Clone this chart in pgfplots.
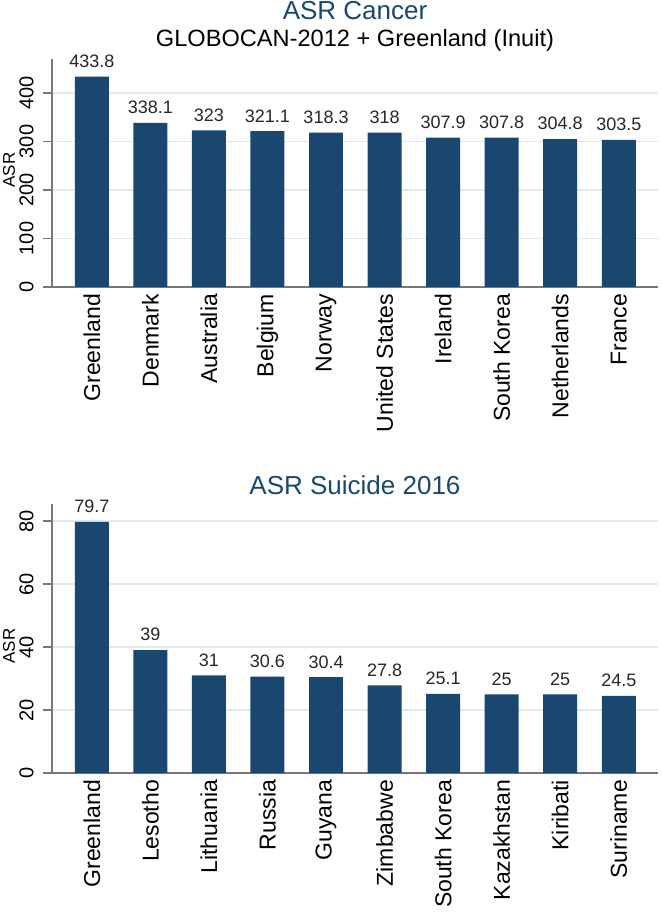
\documentclass[border=0pt]{standalone}
\usepackage{pgfplots}
\pgfplotsset{compat=1.18}
\usepackage{pgfplotstable}
\usepackage{fontspec}
\setmainfont{Liberation Sans}
\definecolor{barc}{RGB}{26,71,111}
\definecolor{gridc}{RGB}{224,233,238}
\definecolor{axc}{RGB}{120,120,120}

\pgfplotstableread{
x y lab
0 433.8 433.8
1 338.1 338.1
2 323 323
3 321.1 321.1
4 318.3 318.3
5 318 318
6 307.9 307.9
7 307.8 307.8
8 304.8 304.8
9 303.5 303.5
}\cancer

\pgfplotstableread{
x y lab
0 79.7 79.7
1 39 39
2 31 31
3 30.6 30.6
4 30.4 30.4
5 27.8 27.8
6 25.1 25.1
7 25 25
8 25 25
9 24.5 24.5
}\suicide

\pgfplotsset{stbar/.style={
  scale only axis, width=303pt,
  xmin=-0.68, xmax=9.67, ymin=0,
  axis x line*=bottom, axis y line*=left,
  axis line style={-, axc, line width=0.6pt},
  xtick=data, x tick style={draw=none},
  y tick style={axc, line width=0.6pt},
  major tick length=4.5pt,
  tick align=outside,
  ymajorgrids, major grid style={gridc, line width=0.7pt},
  xticklabel style={rotate=90, anchor=east, xshift=4.5pt, font=\fontsize{11.5}{12}\selectfont},
  yticklabel style={rotate=90, anchor=south, inner sep=0pt, yshift=4.5pt, font=\fontsize{10}{12}\selectfont},
  /pgf/number format/assume math mode=true,
  ybar, bar width=0.58,
  nodes near coords, point meta=explicit symbolic,
  every node near coord/.append style={font=\fontsize{9}{10}\selectfont, text=black!85, inner sep=0pt, yshift=4.3pt},
  clip=false,
}}

\begin{document}
\begin{tikzpicture}
\path[use as bounding box] (0,0) rectangle (331pt,456pt);

\begin{axis}[stbar, at={(26pt,312.5pt)}, anchor=south west, height=114pt,
  ymax=470, ytick={0,100,200,300,400},
  xticklabels={Greenland,Denmark,Australia,Belgium,Norway,United States,Ireland,South Korea,Netherlands,France}]
\addplot[fill=barc, draw=none] table[x=x, y=y, meta=lab]{\cancer};
\end{axis}

\begin{axis}[stbar, at={(26pt,69.5pt)}, anchor=south west, height=134.5pt,
  ymax=85.4, ytick={0,20,40,60,80},
  xticklabels={Greenland,Lesotho,Lithuania,Russia,Guyana,Zimbabwe,South Korea,Kazakhstan,Kiribati,Suriname}]
\addplot[fill=barc, draw=none] table[x=x, y=y, meta=lab]{\suicide};
\end{axis}

\node[anchor=base, text=barc, font=\fontsize{13}{15}\selectfont] at (177.5pt,446pt) {ASR Cancer};
\node[anchor=base, text=black, font=\fontsize{11.8}{14}\selectfont] at (177.5pt,432.5pt) {GLOBOCAN-2012 + Greenland (Inuit)};
\node[anchor=base, text=barc, font=\fontsize{13}{15}\selectfont] at (177.5pt,208.5pt) {ASR Suicide 2016};
\node[rotate=90, font=\fontsize{8.5}{10}\selectfont] at (4.5pt,371pt) {ASR};
\node[rotate=90, font=\fontsize{8.5}{10}\selectfont] at (4.5pt,133pt) {ASR};
\end{tikzpicture}
\end{document}
